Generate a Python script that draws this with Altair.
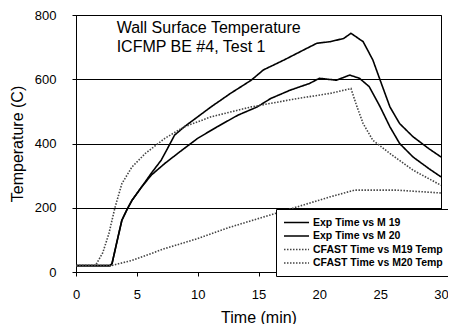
import altair as alt
import pandas as pd

names = ["Exp Time vs M 19", "Exp Time vs M 20", "CFAST Time vs M19 Temp", "CFAST Time vs M20 Temp"]

exp19_t = [0, 2.8, 2.96, 3.4, 3.77, 4.2, 4.6, 5.4, 6.2, 7.0, 7.6, 8.1, 8.9, 10, 11.1, 12.7, 14.4, 15.4, 17.1, 18.7,
           19.8, 20.9, 22.0, 22.6, 23.1, 23.6, 24.4, 25.0, 25.8, 26.6, 27.7, 29, 30]
exp19_v = [20, 20, 26, 100, 161, 195, 223, 265, 308, 348, 390, 426, 452, 483, 514, 556, 597, 629, 660, 691,
           712, 717, 727, 743, 730, 717, 660, 597, 514, 462, 421, 384, 358]

exp20_t = [0, 2.8, 2.96, 3.4, 3.77, 4.2, 4.6, 5.4, 6.2, 7.3, 8.7, 10, 11.6, 13.3, 14.9, 16, 17.6, 19.2, 20,
           21.4, 22.5, 23.3, 24.1, 25, 25.8, 26.6, 27.7, 29, 30]
exp20_v = [20, 20, 26, 100, 161, 195, 223, 265, 302, 338, 379, 416, 452, 488, 514, 540, 566, 587, 603,
           597, 613, 603, 577, 514, 452, 400, 358, 322, 296]

cf19_t = [0, 1.6, 2.2, 2.7, 3.2, 3.77, 4.6, 5.7, 7.3, 8.9, 11.1, 14.4, 18.2, 20.9, 22.6, 23.1, 23.6, 24.4, 25.8, 27.7, 30]
cf19_v = [20, 20, 60, 119, 200, 275, 327, 369, 416, 452, 483, 514, 540, 556, 571, 514, 462, 410, 369, 317, 270]

cf20_t = [0, 2.9, 4.6, 7.3, 10, 12.7, 15.4, 18.2, 20.9, 22.9, 26.3, 30]
cf20_v = [20, 20, 36, 73, 104, 140, 171, 203, 234, 255, 255, 246]

frames = []
for name, ts, vs in zip(names, [exp19_t, exp20_t, cf19_t, cf20_t], [exp19_v, exp20_v, cf19_v, cf20_v]):
    frames.append(pd.DataFrame({"t": ts, "v": vs, "series": name}))
df = pd.concat(frames, ignore_index=True)

FONT = "Liberation Sans"

lines = alt.Chart(df).mark_line(clip=True).encode(
    x=alt.X("t:Q", scale=alt.Scale(domain=[0, 30], nice=False),
            axis=alt.Axis(title="Time (min)", values=[0, 5, 10, 15, 20, 25, 30], grid=False,
                          tickSize=4, labelPadding=12, titlePadding=8, labelFlush=False)),
    y=alt.Y("v:Q", scale=alt.Scale(domain=[0, 800], nice=False),
            axis=alt.Axis(title="Temperature (C)", values=[0, 200, 400, 600, 800], grid=True,
                          tickSize=4, labelPadding=16, titlePadding=9)),
    color=alt.Color("series:N", scale=alt.Scale(domain=names, range=["black", "black", "#444444", "#444444"]),
                    legend=alt.Legend(title=None, orient="none", legendX=200, legendY=194,
                                      symbolType="M-1,0H3.55", symbolSize=121, symbolStrokeWidth=1.5,
                                      labelFont=FONT, labelFontSize=10.5, labelFontWeight="bold",
                                      labelColor="black", strokeColor="black", fillColor="white",
                                      padding=7, rowPadding=1.5, labelOffset=17)),
    strokeDash=alt.StrokeDash("series:N", scale=alt.Scale(domain=names, range=[[1, 0], [1, 0], [1.5, 1.5], [1.5, 1.5]])),
    strokeWidth=alt.StrokeWidth("series:N", scale=alt.Scale(domain=names, range=[1.6, 1.6, 1.2, 1.2]), legend=None),
    detail="series:N",
)

label = alt.Chart().mark_text(
    text=["Wall Surface Temperature", "ICFMP BE #4, Test 1"], align="left", baseline="alphabetic",
    font=FONT, fontSize=16, lineHeight=19, color="black"
).encode(x=alt.datum(3.34), y=alt.datum(744))

chart = alt.layer(lines, label).properties(
    width=365, height=257,
    autosize=alt.AutoSizeParams(type="none"),
    padding={"left": 68, "top": 7, "right": 7, "bottom": 52}
).configure_view(
    stroke="black", strokeWidth=1
).configure_axis(
    labelFont=FONT, titleFont=FONT, labelFontSize=13, titleFontSize=16, titleFontWeight="normal",
    labelColor="black", titleColor="black", domainColor="black", tickColor="black",
    gridColor="black", gridWidth=1, gridOpacity=1, domainWidth=1
)

chart.save("out.html", embed_options={"renderer": "svg", "actions": False})
